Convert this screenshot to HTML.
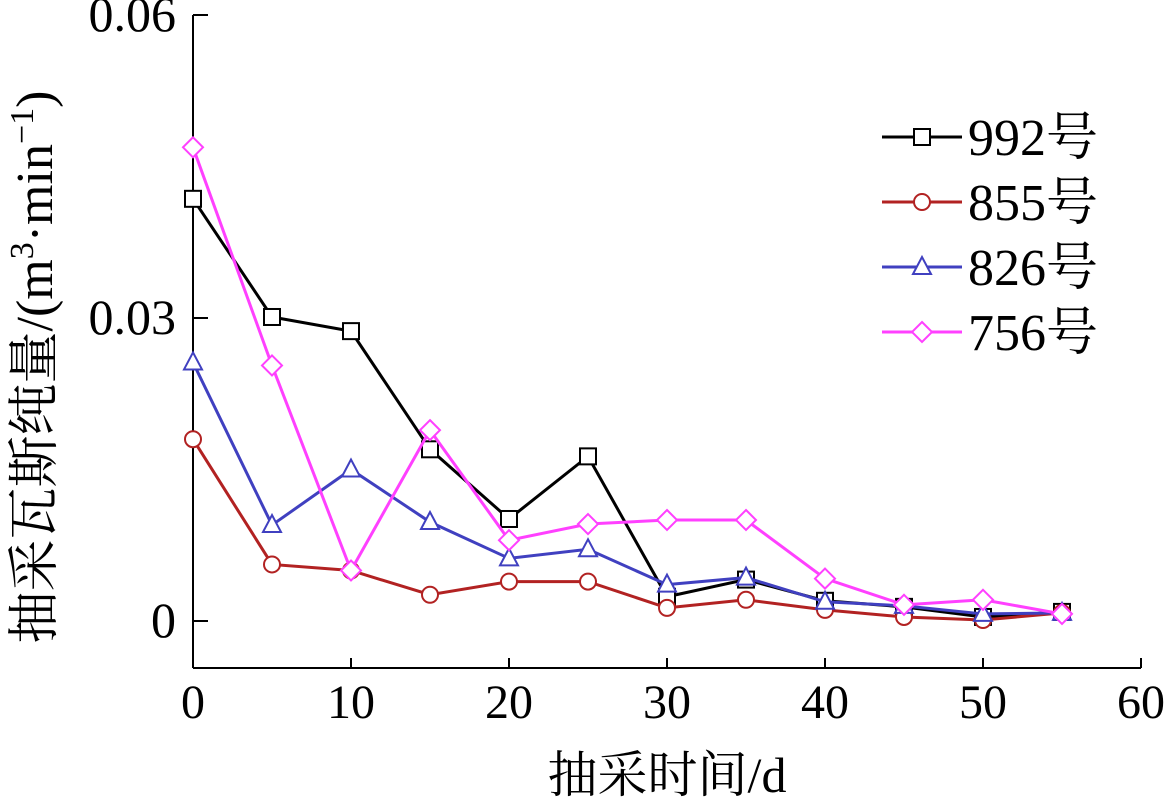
<!DOCTYPE html>
<html><head><meta charset="utf-8"><style>
html,body{margin:0;padding:0;background:#fff;}
svg text{font-family:"Liberation Serif","Noto Serif CJK SC","Noto Sans CJK SC",serif;}
</style></head><body>
<svg id="chart" width="1170" height="800" xmlns="http://www.w3.org/2000/svg"></svg>
<script>
const days = [0,5,10,15,20,25,30,35,40,45,50,55];
const s992 = [0.0418,0.0301,0.0287,0.0170,0.0101,0.0163,0.0024,0.0041,0.0020,0.0014,0.0004,0.0009];
const s855 = [0.0180,0.0056,0.0050,0.0026,0.0039,0.0039,0.0013,0.0021,0.0011,0.0004,0.0001,0.0008];
const s826 = [0.0256,0.0095,0.0150,0.0098,0.0062,0.0071,0.0036,0.0043,0.0019,0.0015,0.0007,0.0008];
const s756 = [0.0469,0.0253,0.0050,0.0189,0.0080,0.0096,0.0100,0.0100,0.0042,0.0016,0.0021,0.0007];
const xTicks = [0,10,20,30,40,50,60];
const yTicks = [0,0.03,0.06];
const yTickLabels = ["0","0.03","0.06"];
const seriesNames = ["992号","855号","826号","756号"];

const NS="http://www.w3.org/2000/svg";
const svg=document.getElementById('chart');
const X0=193,X1=1141,Ytop=15,Ybot=668;
const xs=v=>X0+(v/60)*(X1-X0);
const ys=v=>621-(v/0.06)*(621-Ytop);
function mk(tag,attrs,parent){const e=document.createElementNS(NS,tag);for(const k in attrs)e.setAttribute(k,attrs[k]);(parent||svg).appendChild(e);return e;}

let ax=mk('line',{x1:X0,y1:Ytop,x2:X0,y2:Ybot,stroke:'#000','stroke-width':2});


ax=mk('line',{x1:X0,y1:Ybot,x2:X1,y2:Ybot,stroke:'#000','stroke-width':2});



xTicks.forEach(t=>{
  const l=mk('line',{x1:xs(t),y1:Ybot,x2:xs(t),y2:Ybot-10,stroke:'#000','stroke-width':2});
  
  
  const tx=mk('text',{x:xs(t),y:718,'text-anchor':'middle','font-size':48});
  tx.textContent=t;
  
  
});
yTicks.forEach((t,i)=>{
  const l=mk('line',{x1:X0,y1:ys(t),x2:X0+15,y2:ys(t),stroke:'#000','stroke-width':2});
  
  
  const tx=mk('text',{x:176,y:ys(t)+16,'text-anchor':'end','font-size':50});
  tx.textContent=yTickLabels[i];
  
  
});

let xl=mk('text',{x:667,y:792,'text-anchor':'middle','font-size':50});
xl.textContent='抽采时间/d';



let yl=mk('text',{x:0,y:0,'text-anchor':'middle','font-size':52,transform:'translate(52,367) rotate(-90)'});
yl.innerHTML='抽采瓦斯纯量/(m<tspan dy="-19" font-size="34">3</tspan><tspan dy="19">·min</tspan><tspan dy="-19" font-size="34">−1</tspan><tspan dy="19">)</tspan>';



function marker(type,cx,cy,color,parent){
  const r=8;
  if(type==='square') return mk('rect',{x:cx-r,y:cy-r,width:2*r,height:2*r,fill:'none',stroke:color,'stroke-width':2},parent);
  if(type==='circle') return mk('circle',{cx:cx,cy:cy,r:r,fill:'none',stroke:color,'stroke-width':2},parent);
  if(type==='triangle') return mk('polygon',{points:`${cx},${cy-10} ${cx-9},${cy+7} ${cx+9},${cy+7}`,fill:'none',stroke:color,'stroke-width':2},parent);
  return mk('polygon',{points:`${cx},${cy-10} ${cx+10},${cy} ${cx},${cy+10} ${cx-10},${cy}`,fill:'none',stroke:color,'stroke-width':2},parent);
}

const defs=[[s992,'#000','square','series-992'],[s855,'#b22222','circle','series-855'],[s826,'#4040c0','triangle','series-826'],[s756,'#ff40ff','diamond','series-756']];
defs.forEach(([vals,color,m,name])=>{
  const g=mk('g',{});
  
  
  const p=mk('polyline',{points:vals.map((v,i)=>xs(days[i])+','+ys(v)).join(' '),fill:'none',stroke:color,'stroke-width':3},g);
  
  
  vals.forEach((v,i)=>{
    const mm=marker(m,xs(days[i]),ys(v),color,g);
    mm.setAttribute('fill','#fff');
    
    
  });
});

const lg=mk('g',{});


defs.forEach(([vals,color,m,name],i)=>{
  const y=137+i*65;
  const e=mk('g',{},lg);
  
  
  mk('line',{x1:882,y1:y,x2:962,y2:y,stroke:color,'stroke-width':3},e);
  marker(m,922,y,color,e).setAttribute('fill','#fff');
  const t=mk('text',{x:968,y:y+18,'font-size':52},e);
  t.textContent=seriesNames[i];
});
</script>
</body></html>
